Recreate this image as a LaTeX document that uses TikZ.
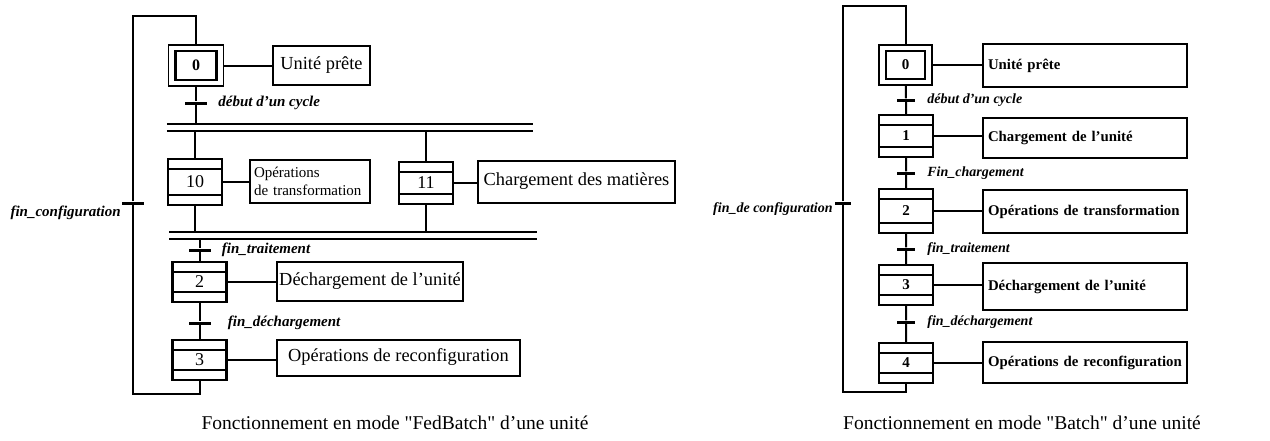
\documentclass[tikz,border=0pt]{standalone}
\usepackage{fontspec}
\setmainfont{Liberation Serif}
\usetikzlibrary{calc}
\tikzset{lien/.style={line width=2pt},
etape/.style={draw, line width=2.2pt, minimum width=54pt, minimum height=42pt, inner sep=0pt, font=\fontsize{18}{20}\selectfont,
path picture={\draw[line width=1.4pt] ([yshift=-10pt]path picture bounding box.north west) -- ([yshift=-10pt]path picture bounding box.north east) ([yshift=10pt]path picture bounding box.south west) -- ([yshift=10pt]path picture bounding box.south east);}},
etapeinit/.style={draw, line width=1.4pt, minimum width=55pt, minimum height=41pt, inner sep=0pt, font=\bfseries\fontsize{16}{18}\selectfont,
path picture={\draw[line width=2.6pt] ([shift={(7pt,-6pt)}]path picture bounding box.north west) rectangle ([shift={(-7pt,6pt)}]path picture bounding box.south east);}},
action/.style={draw, line width=2pt, inner sep=0pt, font=\fontsize{18.4}{21}\selectfont},
actiond/.style={draw, line width=2pt, inner xsep=5pt, inner ysep=0pt, text width=194pt, align=left, font=\bfseries\fontsize{14.8}{17}\selectfont},
trans/.style={fill, minimum width=22pt, minimum height=3pt, inner sep=0pt},
recept/.style={font=\bfseries\itshape\fontsize{15}{17}\selectfont, inner sep=0pt},
receptd/.style={font=\bfseries\itshape\fontsize{14}{16}\selectfont, inner sep=0pt},
barres/.style={minimum height=7pt, inner sep=0pt, append after command={(\tikzlastnode.north west) edge[lien] (\tikzlastnode.north east) (\tikzlastnode.south west) edge[lien] (\tikzlastnode.south east)}},
legende/.style={font=\fontsize{19.5}{22}\selectfont}}
\begin{document}
\begin{tikzpicture}[x=1pt,y=-1pt]
\useasboundingbox (0,0) rectangle (1270,440);
% mode FedBatch
\node[etapeinit] (e0) at (196,65.5) {0};
\node[action, minimum width=97pt, minimum height=39pt] (a0) at (321.5,65.5) {Unité prête};
\node[trans, label={[recept, label distance=11pt]right:début d'un cycle}] (t0) at (196,103) {};
\node[barres, minimum width=366pt] (div1) at (350,127.5) {};
\node[etape, minimum height=46pt] (e10) at (195,182) {10};
\node[action, minimum width=120pt, minimum height=43pt, text width=112pt, inner xsep=4pt, align=left, font=\fontsize{15}{18}\selectfont] (a10) at (310,181.5) {Opérations\\de transformation};
\node[etape] (e11) at (426,183) {11};
\node[action, minimum width=197pt, minimum height=42pt] (a11) at (576.5,181.5) {Chargement des matières};
\node[barres, minimum width=367pt] (div2) at (353,235.5) {};
\node[trans, label={[recept, label distance=11pt]right:fin\_traitement}] (t2) at (199.5,250) {};
\node[etape, minimum height=40pt] (e2) at (199.5,282) {2};
\node[action, minimum width=186pt, minimum height=39pt] (a2) at (370,281.5) {Déchargement de l'unité};
\node[trans, label={[recept, label distance=17pt]right:fin\_déchargement}] (t3) at (199.5,323) {};
\node[etape, minimum height=40pt] (e3) at (199.5,360) {3};
\node[action, minimum width=243pt, minimum height=36pt] (a3) at (398.5,357.5) {Opérations de reconfiguration};
\node[trans, label={[recept, anchor=north east, xshift=-1pt, yshift=-1pt]south west:fin\_configuration}] (tb) at (133,203) {};
\coordinate (b1) at (133,394);
\coordinate (b2) at (133,16);
\draw[lien] (e0) -- (t0) -- (t0 |- div1.north);
\draw[lien] (div1.south -| e10) -- (e10) (div1.south -| e11) -- (e11);
\draw[lien] (e10) -- (e10 |- div2.north) (e11) -- (e11 |- div2.north);
\draw[lien] (div2.south -| t2) -- (t2) -- (e2) -- (t3) -- (e3);
\draw[lien] (e3) -- (e3 |- b1) -- (b1) -- (tb) -- (b2) -| (e0);
\draw[lien] (e0) -- (e0 -| a0.west) (e10) -- (e10 -| a10.west) (e11) -- (e11 -| a11.west);
\draw[lien] (e2) -- (e2 -| a2.west) (e3) -- (e3 -| a3.west);
\node[legende] (leg1) at (395,423) {Fonctionnement en mode \textquotedbl FedBatch\textquotedbl{} d'une unité};
% mode Batch
\node[etapeinit, minimum width=53pt, minimum height=40pt, font=\bfseries\fontsize{15}{17}\selectfont] (f0) at (905.5,65) {0};
\node[actiond, minimum height=43pt] (c0) at (1085,65.5) {\mbox{Unité prête}};
\node[trans, minimum width=18pt, label={[receptd, label distance=12pt]right:début d'un cycle}] (s0) at (906,100) {};
\node[etape, font=\bfseries\fontsize{15}{17}\selectfont] (f1) at (906,136) {1};
\node[actiond, minimum height=40pt] (c1) at (1085,138) {\mbox{Chargement de l'unité}};
\node[trans, minimum width=18pt, label={[receptd, label distance=12pt]right:Fin\_chargement}] (s1) at (906,173) {};
\node[etape, minimum height=44pt, font=\bfseries\fontsize{15}{17}\selectfont] (f2) at (906,211) {2};
\node[actiond, minimum height=43pt] (c2) at (1085,211.5) {\mbox{Opérations de transformation}};
\node[trans, minimum width=18pt, label={[receptd, label distance=12pt]right:fin\_traitement}] (s2) at (906,249) {};
\node[etape, minimum height=40pt, font=\bfseries\fontsize{15}{17}\selectfont] (f3) at (906,285) {3};
\node[actiond, minimum height=47pt] (c3) at (1085,286.5) {\mbox{Déchargement de l'unité}};
\node[trans, minimum width=18pt, label={[receptd, label distance=12pt]right:fin\_déchargement}] (s3) at (906,322) {};
\node[etape, minimum height=40pt, font=\bfseries\fontsize{15}{17}\selectfont] (f4) at (906,363) {4};
\node[actiond, minimum height=41pt] (c4) at (1085,362.5) {\mbox{Opérations de reconfiguration}};
\node[trans, minimum width=16pt, label={[receptd, anchor=north east, xshift=-2pt, yshift=2pt]south west:fin\_de configuration}] (sb) at (843,203) {};
\coordinate (d1) at (843,392);
\coordinate (d2) at (843,6);
\draw[lien] (f0) -- (s0) -- (f1) -- (s1) -- (f2) -- (s2) -- (f3) -- (s3) -- (f4);
\draw[lien] (f4) -- (f4 |- d1) -- (d1) -- (sb) -- (d2) -| (f0);
\draw[lien] (f0) -- (f0 -| c0.west) (f1) -- (f1 -| c1.west) (f2) -- (f2 -| c2.west);
\draw[lien] (f3) -- (f3 -| c3.west) (f4) -- (f4 -| c4.west);
\node[legende] (leg2) at (1022,423) {Fonctionnement en mode \textquotedbl Batch\textquotedbl{} d'une unité};
\end{tikzpicture}
\end{document}
